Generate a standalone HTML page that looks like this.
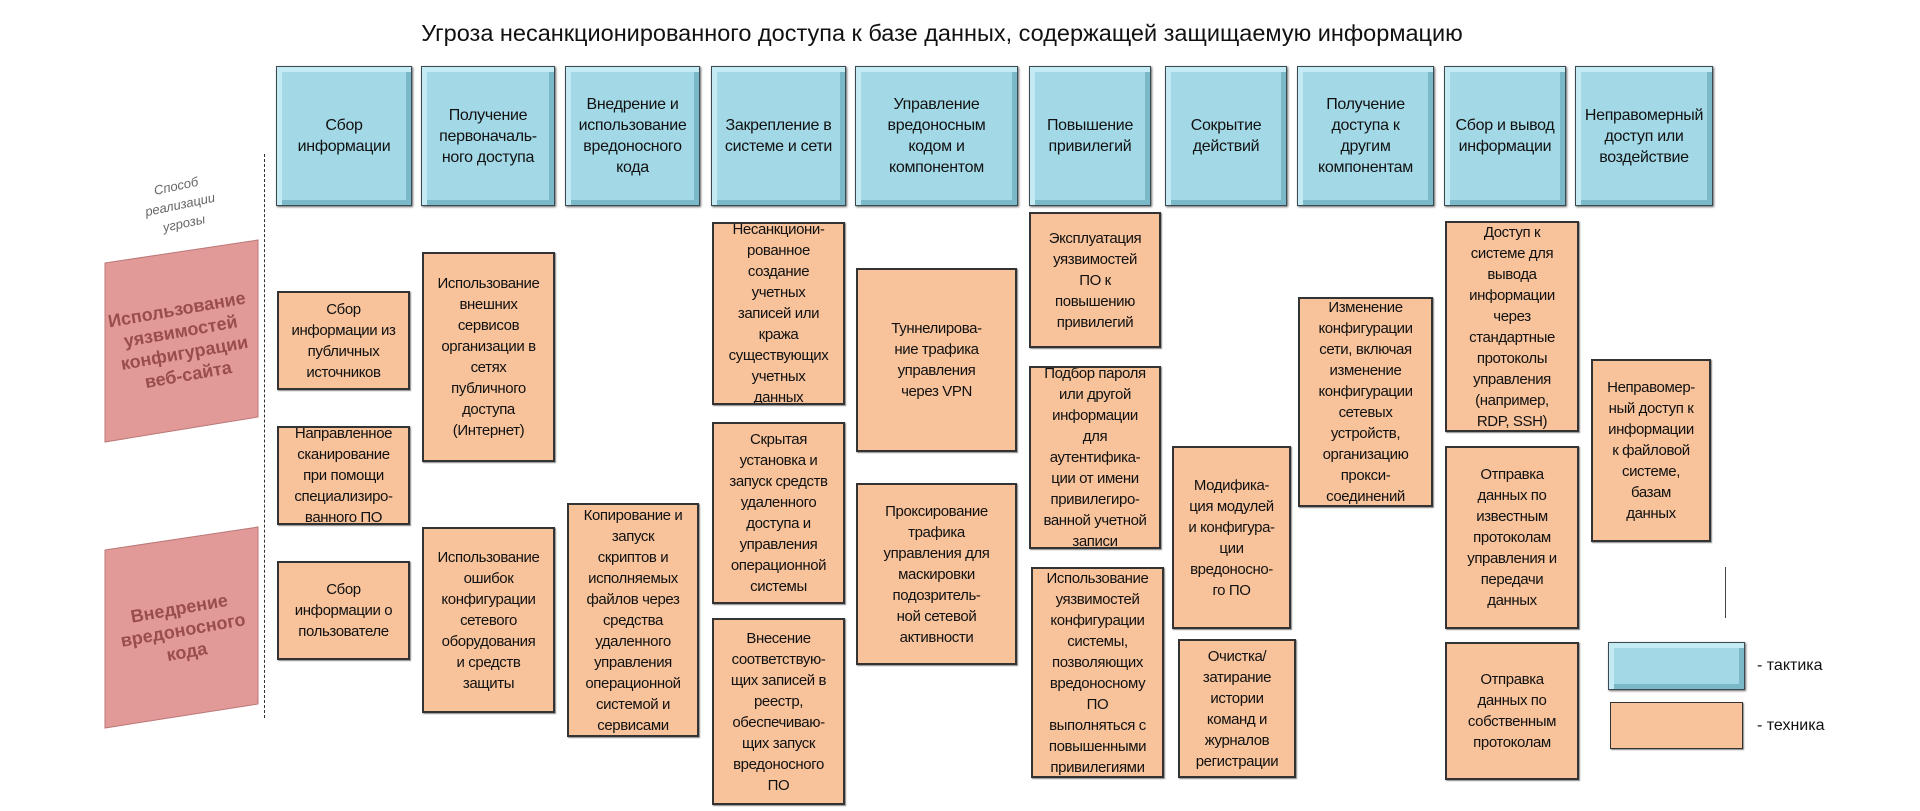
<!DOCTYPE html>
<html><head><meta charset="utf-8">
<style>
body{margin:0;width:1920px;height:811px;background:#fff;position:relative;overflow:hidden;font-family:"Liberation Sans","DejaVu Sans",sans-serif;}
#w{position:absolute;left:7px;top:0;width:1920px;height:811px;}
.t,.k{position:absolute;display:flex;align-items:center;justify-content:center;text-align:center;box-sizing:border-box;color:#111;}
.t{background:#a3d9e6;border:1px solid #3a4a50;box-shadow:inset 6px 6px 0 -1px #c4eaf3,inset -6px -6px 0 -1px #7bb8c8,1px 1px 2px #666;font-size:16px;line-height:21px;letter-spacing:-0.3px;padding:0 6px;}
.k{background:#f8c39b;border:2px solid #333;box-shadow:1px 1px 1px #888;font-size:15px;line-height:21px;letter-spacing:-0.4px;padding:0 3px;overflow:hidden;}
.title{position:absolute;left:0;width:1870px;top:20px;text-align:center;font-size:23.5px;color:#111;}
.lbl{position:absolute;font-size:16px;color:#111;}
</style></head><body><div id="w">
<div class="title">Угроза несанкционированного доступа к базе данных, содержащей защищаемую информацию</div>

<div class="t" style="left:269px;top:66px;width:136px;height:140px">Сбор<br>информации</div>
<div class="t" style="left:414px;top:66px;width:134px;height:140px">Получение<br>первоначаль-<br>ного доступа</div>
<div class="t" style="left:558px;top:66px;width:135px;height:140px">Внедрение и<br>использование<br>вредоносного<br>кода</div>
<div class="t" style="left:704px;top:66px;width:135px;height:140px">Закрепление в<br>системе и сети</div>
<div class="t" style="left:848px;top:66px;width:163px;height:140px">Управление<br>вредоносным<br>кодом и<br>компонентом</div>
<div class="t" style="left:1022px;top:66px;width:122px;height:140px">Повышение<br>привилегий</div>
<div class="t" style="left:1158px;top:66px;width:122px;height:140px">Сокрытие<br>действий</div>
<div class="t" style="left:1290px;top:66px;width:137px;height:140px">Получение<br>доступа к<br>другим<br>компонентам</div>
<div class="t" style="left:1437px;top:66px;width:122px;height:140px">Сбор и вывод<br>информации</div>
<div class="t" style="left:1568px;top:66px;width:138px;height:140px">Неправомерный<br>доступ или<br>воздействие</div>

<div style="position:absolute;left:128px;top:176px;width:90px;text-align:center;font-size:13px;line-height:19px;color:#666;font-style:italic;transform:rotate(-12deg)">Способ<br>реализации<br>угрозы</div>
<div style="position:absolute;left:257px;top:154px;height:564px;border-left:1px dashed #333"></div>

<svg style="position:absolute;left:0;top:0" width="300" height="811">
<polygon points="98,263 251,240 251,417 98,442" fill="#e29a98" stroke="#b77" stroke-width="1"/>
<polygon points="98,550 251,527 251,704 98,728" fill="#e29a98" stroke="#b77" stroke-width="1"/>
<g font-family="Liberation Sans, sans-serif" font-size="18" font-weight="bold" fill="#9a4d4d" text-anchor="middle">
<g transform="translate(176,345) rotate(-10)">
<text y="-30">Использование</text><text y="-8">уязвимостей</text><text y="14">конфигурации</text><text y="36">веб-сайта</text></g>
<g transform="translate(176,630) rotate(-10)">
<text y="-16">Внедрение</text><text y="6">вредоносного</text><text y="28">кода</text></g>
</g></svg>

<div class="k" style="left:270px;top:291px;width:133px;height:99px">Сбор<br>информации из<br>публичных<br>источников</div>
<div class="k" style="left:270px;top:426px;width:133px;height:99px">Направленное<br>сканирование<br>при помощи<br>специализиро-<br>ванного ПО</div>
<div class="k" style="left:270px;top:561px;width:133px;height:99px">Сбор<br>информации о<br>пользователе</div>

<div class="k" style="left:415px;top:252px;width:133px;height:210px">Использование<br>внешних<br>сервисов<br>организации в<br>сетях<br>публичного<br>доступа<br>(Интернет)</div>
<div class="k" style="left:415px;top:527px;width:133px;height:186px">Использование<br>ошибок<br>конфигурации<br>сетевого<br>оборудования<br>и средств<br>защиты</div>

<div class="k" style="left:560px;top:503px;width:132px;height:234px">Копирование и<br>запуск<br>скриптов и<br>исполняемых<br>файлов через<br>средства<br>удаленного<br>управления<br>операционной<br>системой и<br>сервисами</div>

<div class="k" style="left:705px;top:222px;width:133px;height:183px">Несанкциони-<br>рованное<br>создание<br>учетных<br>записей или<br>кража<br>существующих<br>учетных<br>данных</div>
<div class="k" style="left:705px;top:422px;width:133px;height:182px">Скрытая<br>установка и<br>запуск средств<br>удаленного<br>доступа и<br>управления<br>операционной<br>системы</div>
<div class="k" style="left:705px;top:618px;width:133px;height:187px">Внесение<br>соответствую-<br>щих записей в<br>реестр,<br>обеспечиваю-<br>щих запуск<br>вредоносного<br>ПО</div>

<div class="k" style="left:849px;top:268px;width:161px;height:184px">Туннелирова-<br>ние трафика<br>управления<br>через VPN</div>
<div class="k" style="left:849px;top:483px;width:161px;height:182px">Проксирование<br>трафика<br>управления для<br>маскировки<br>подозритель-<br>ной сетевой<br>активности</div>

<div class="k" style="left:1022px;top:212px;width:132px;height:136px">Эксплуатация<br>уязвимостей<br>ПО к<br>повышению<br>привилегий</div>
<div class="k" style="left:1022px;top:366px;width:132px;height:183px">Подбор пароля<br>или другой<br>информации<br>для<br>аутентифика-<br>ции от имени<br>привилегиро-<br>ванной учетной<br>записи</div>
<div class="k" style="left:1024px;top:567px;width:133px;height:211px">Использование<br>уязвимостей<br>конфигурации<br>системы,<br>позволяющих<br>вредоносному<br>ПО<br>выполняться с<br>повышенными<br>привилегиями</div>

<div class="k" style="left:1165px;top:446px;width:119px;height:183px">Модифика-<br>ция модулей<br>и конфигура-<br>ции<br>вредоносно-<br>го ПО</div>
<div class="k" style="left:1171px;top:639px;width:118px;height:139px">Очистка/<br>затирание<br>истории<br>команд и<br>журналов<br>регистрации</div>

<div class="k" style="left:1291px;top:297px;width:135px;height:210px">Изменение<br>конфигурации<br>сети, включая<br>изменение<br>конфигурации<br>сетевых<br>устройств,<br>организацию<br>прокси-<br>соединений</div>

<div class="k" style="left:1438px;top:221px;width:134px;height:211px">Доступ к<br>системе для<br>вывода<br>информации<br>через<br>стандартные<br>протоколы<br>управления<br>(например,<br>RDP, SSH)</div>
<div class="k" style="left:1438px;top:446px;width:134px;height:183px">Отправка<br>данных по<br>известным<br>протоколам<br>управления и<br>передачи<br>данных</div>
<div class="k" style="left:1438px;top:642px;width:134px;height:138px">Отправка<br>данных по<br>собственным<br>протоколам</div>

<div class="k" style="left:1584px;top:359px;width:120px;height:183px">Неправомер-<br>ный доступ к<br>информации<br>к файловой<br>системе,<br>базам<br>данных</div>

<div style="position:absolute;left:1718px;top:567px;height:51px;border-left:1px solid #444"></div>
<div class="t" style="left:1601px;top:642px;width:137px;height:48px"></div>
<div class="lbl" style="left:1750px;top:657px">- тактика</div>
<div class="k" style="left:1603px;top:702px;width:133px;height:47px;border-width:1px"></div>
<div class="lbl" style="left:1750px;top:717px">- техника</div>
</div></body></html>
